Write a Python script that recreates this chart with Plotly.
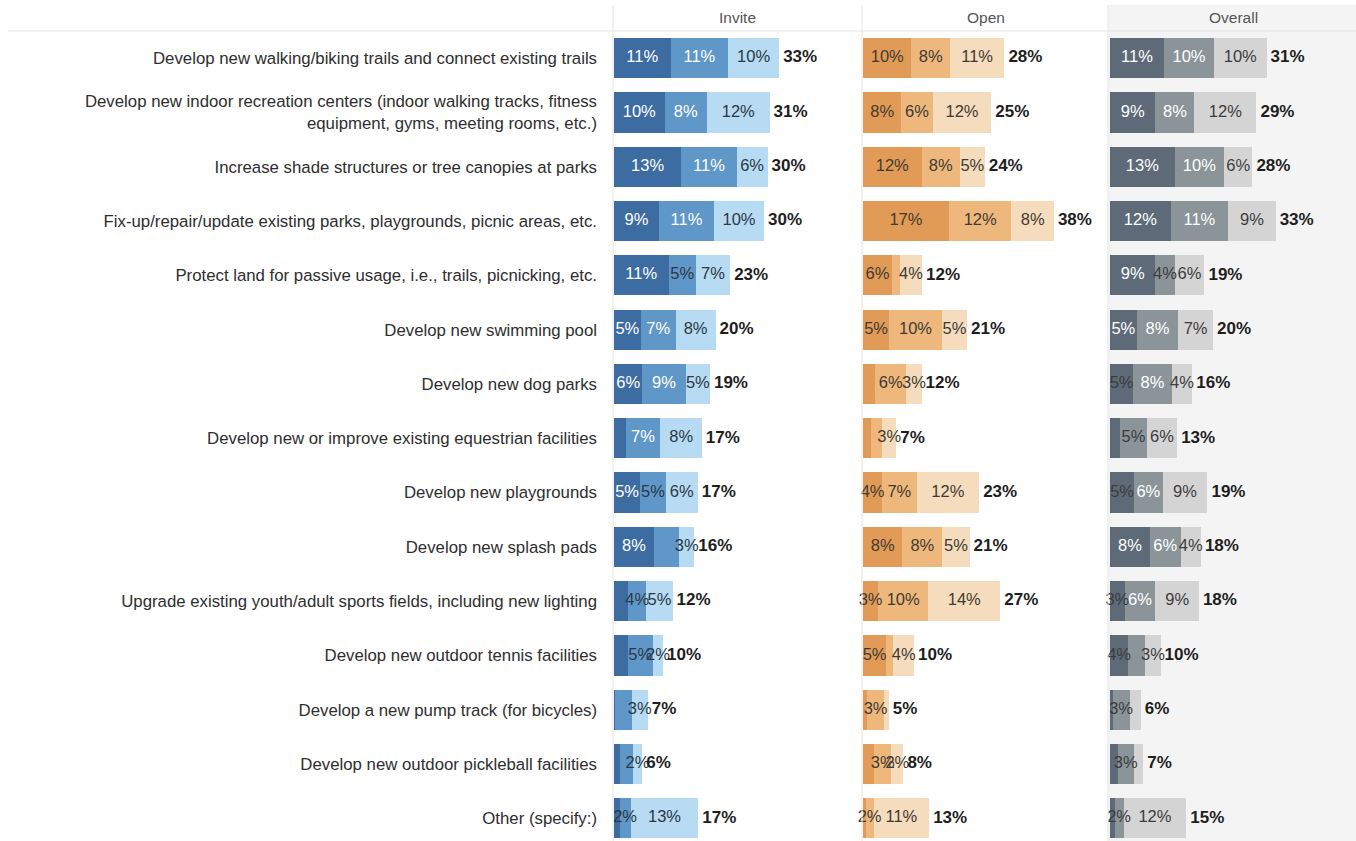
import plotly.graph_objects as go

categories = [
    "Develop new walking/biking trails and connect existing trails",
    "Develop new indoor recreation centers (indoor walking tracks, fitness<br>equipment, gyms, meeting rooms, etc.)",
    "Increase shade structures or tree canopies at parks",
    "Fix-up/repair/update existing parks, playgrounds, picnic areas, etc.",
    "Protect land for passive usage, i.e., trails, picnicking, etc.",
    "Develop new swimming pool",
    "Develop new dog parks",
    "Develop new or improve existing equestrian facilities",
    "Develop new playgrounds",
    "Develop new splash pads",
    "Upgrade existing youth/adult sports fields, including new lighting",
    "Develop new outdoor tennis facilities",
    "Develop a new pump track (for bicycles)",
    "Develop new outdoor pickleball facilities",
    "Other (specify:)",
]

panel_names = ["Invite", "Open", "Overall"]

invite_s1 = [11.2, 10.0, 13.3, 8.9, 10.8, 5.3, 5.6, 2.3, 5.2, 7.9, 2.8, 2.7, 0.2, 1.1, 1.1]
invite_s2 = [11.4, 8.4, 11.0, 10.9, 5.4, 6.9, 8.6, 6.9, 5.0, 5.0, 3.6, 5.0, 3.3, 2.6, 2.2]
invite_s3 = [10.1, 12.4, 6.1, 9.9, 6.8, 7.9, 4.8, 8.2, 6.4, 3.0, 5.2, 2.0, 3.2, 1.9, 13.4]
invite_total = [33, 31, 30, 30, 23, 20, 19, 17, 17, 16, 12, 10, 7, 6, 17]

open_s1 = [9.6, 7.6, 11.6, 17.0, 5.7, 5.2, 2.4, 1.5, 3.8, 7.8, 3.0, 4.6, 0.8, 2.2, 0.5]
open_s2 = [7.6, 6.2, 7.6, 12.4, 1.6, 10.4, 6.2, 2.3, 6.8, 7.9, 9.9, 1.4, 3.4, 3.4, 1.6]
open_s3 = [10.8, 11.6, 4.9, 8.4, 4.4, 5.0, 3.0, 2.8, 12.4, 5.4, 14.3, 4.1, 0.9, 2.4, 11.0]
open_total = [28, 25, 24, 38, 12, 21, 12, 7, 23, 21, 27, 10, 5, 8, 13]

overall_s1 = [10.7, 9.0, 12.8, 12.0, 9.0, 5.3, 4.6, 2.0, 4.8, 7.9, 2.9, 3.6, 0.5, 1.5, 0.9]
overall_s2 = [9.9, 7.7, 9.8, 11.4, 3.8, 8.2, 7.6, 5.3, 5.6, 6.1, 6.1, 3.4, 3.4, 3.2, 1.8]
overall_s3 = [10.4, 12.3, 5.6, 9.4, 5.9, 6.9, 4.1, 6.0, 8.9, 4.0, 8.6, 3.0, 2.2, 1.9, 12.4]
overall_total = [31, 29, 28, 33, 19, 20, 16, 13, 19, 18, 18, 10, 6, 7, 15]

# (row, segment) labels that are not shown in the original
invite_hidden = [(7, 0), (9, 1), (10, 0), (11, 0), (12, 0), (12, 1), (13, 0), (13, 1), (14, 0)]
open_hidden = [(4, 1), (6, 0), (7, 0), (7, 1), (11, 1), (12, 0), (12, 2), (13, 0), (14, 0)]
overall_hidden = [(7, 0), (11, 1), (12, 0), (12, 2), (13, 0), (13, 2), (14, 0)]

panels = [
    ([invite_s1, invite_s2, invite_s3], invite_total, invite_hidden,
     ["#3c6ca2", "#6097c9", "#b6dbf3"], [5.0, 5.5, 999], "#2c3844"),
    ([open_s1, open_s2, open_s3], open_total, open_hidden,
     ["#e29b56", "#eeb87c", "#f4dcbc"], [999, 999, 999], "#3f3a34"),
    ([overall_s1, overall_s2, overall_s3], overall_total, overall_hidden,
     ["#5e6a78", "#8b9599", "#d4d4d4"], [5.0, 5.5, 999], "#3c3c3c"),
]

W, H = 1356, 841
FONT = "Liberation Sans, Arial, sans-serif"
PX_PER_UNIT = 5.05
panel_px = [(614, 861), (863, 1108), (1110, 1356)]
plot_top_px = 31
row_px = 54.3
TOTAL_GAP_PX = 4

fig = go.Figure()
n = len(categories)
y_bottom = -0.5 + (H - plot_top_px) / row_px

for pi, (segs, totals, hidden, colors, white_thr, dark_col) in enumerate(panels):
    xa = "x" if pi == 0 else f"x{pi+1}"
    base = [0.0] * n
    lx, ly, lt, lc = [], [], [], []
    for si, seg in enumerate(segs):
        fig.add_trace(go.Bar(
            x=seg, y=categories, orientation="h", xaxis=xa, yaxis="y",
            marker=dict(color=colors[si], line=dict(width=0)),
            hoverinfo="skip", showlegend=False,
        ))
        for r in range(n):
            if (r, si) not in hidden:
                lx.append(base[r] + seg[r] / 2)
                ly.append(categories[r])
                lt.append(f"{int(seg[r] + 0.5)}%")
                lc.append("#ffffff" if seg[r] >= white_thr[si] else dark_col)
            base[r] += seg[r]
    fig.add_trace(go.Scatter(
        x=lx, y=ly, text=lt, mode="text", xaxis=xa, yaxis="y",
        textposition="middle center",
        textfont=dict(family=FONT, size=16.5, color=lc),
        hoverinfo="skip", showlegend=False, cliponaxis=False,
    ))
    fig.add_trace(go.Scatter(
        x=[b + TOTAL_GAP_PX / PX_PER_UNIT for b in base], y=categories,
        text=[f"{t}%" for t in totals], mode="text",
        xaxis=xa, yaxis="y", textposition="middle right",
        textfont=dict(family=FONT, size=17, color="#1e1e1e", weight="bold"),
        hoverinfo="skip", showlegend=False, cliponaxis=False,
    ))

layout = dict(
    width=W, height=H, margin=dict(l=0, r=0, t=0, b=0),
    paper_bgcolor="white", plot_bgcolor="rgba(0,0,0,0)",
    barmode="stack", bargap=0.26, showlegend=False,
    font=dict(family=FONT, size=16, color="#333333"),
    yaxis=dict(
        categoryorder="array", categoryarray=categories,
        range=[y_bottom, -0.5], domain=[0, (H - plot_top_px) / H],
        showgrid=False, zeroline=False, showline=False, ticks="",
        ticklabelstandoff=16, automargin=False,
        tickfont=dict(family=FONT, size=16.8, color="#2e2e2e"),
        anchor="x",
    ),
)
for pi, (a, b) in enumerate(panel_px):
    key = "xaxis" if pi == 0 else f"xaxis{pi+1}"
    layout[key] = dict(
        domain=[a / W, b / W], range=[0, (b - a) / PX_PER_UNIT],
        showgrid=False, zeroline=False, showline=False,
        showticklabels=False, ticks="", anchor="y", fixedrange=True,
    )
fig.update_layout(**layout)

def py(p):
    return (H - p) / H

shapes = [
    dict(type="rect", xref="paper", yref="paper", x0=1109 / W, x1=1.0,
         y0=0, y1=py(5), fillcolor="#f4f4f4", line=dict(width=0), layer="below"),
    dict(type="line", xref="paper", yref="paper", x0=8 / W, x1=1.0,
         y0=py(31), y1=py(31), line=dict(color="#e3e3e3", width=1)),
]
for xp in [613, 862, 1108]:
    shapes.append(dict(type="line", xref="paper", yref="paper", x0=xp / W, x1=xp / W,
                       y0=0, y1=py(5), line=dict(color="#e3e3e3", width=1)))
fig.update_layout(shapes=shapes)

for name, (a, b) in zip(panel_names, panel_px):
    fig.add_annotation(text=name, xref="paper", yref="paper", x=(a + b) / 2 / W, y=py(18),
                       showarrow=False, xanchor="center", yanchor="middle",
                       font=dict(family=FONT, size=15.5, color="#555555"))

fig.write_html("out.html")
